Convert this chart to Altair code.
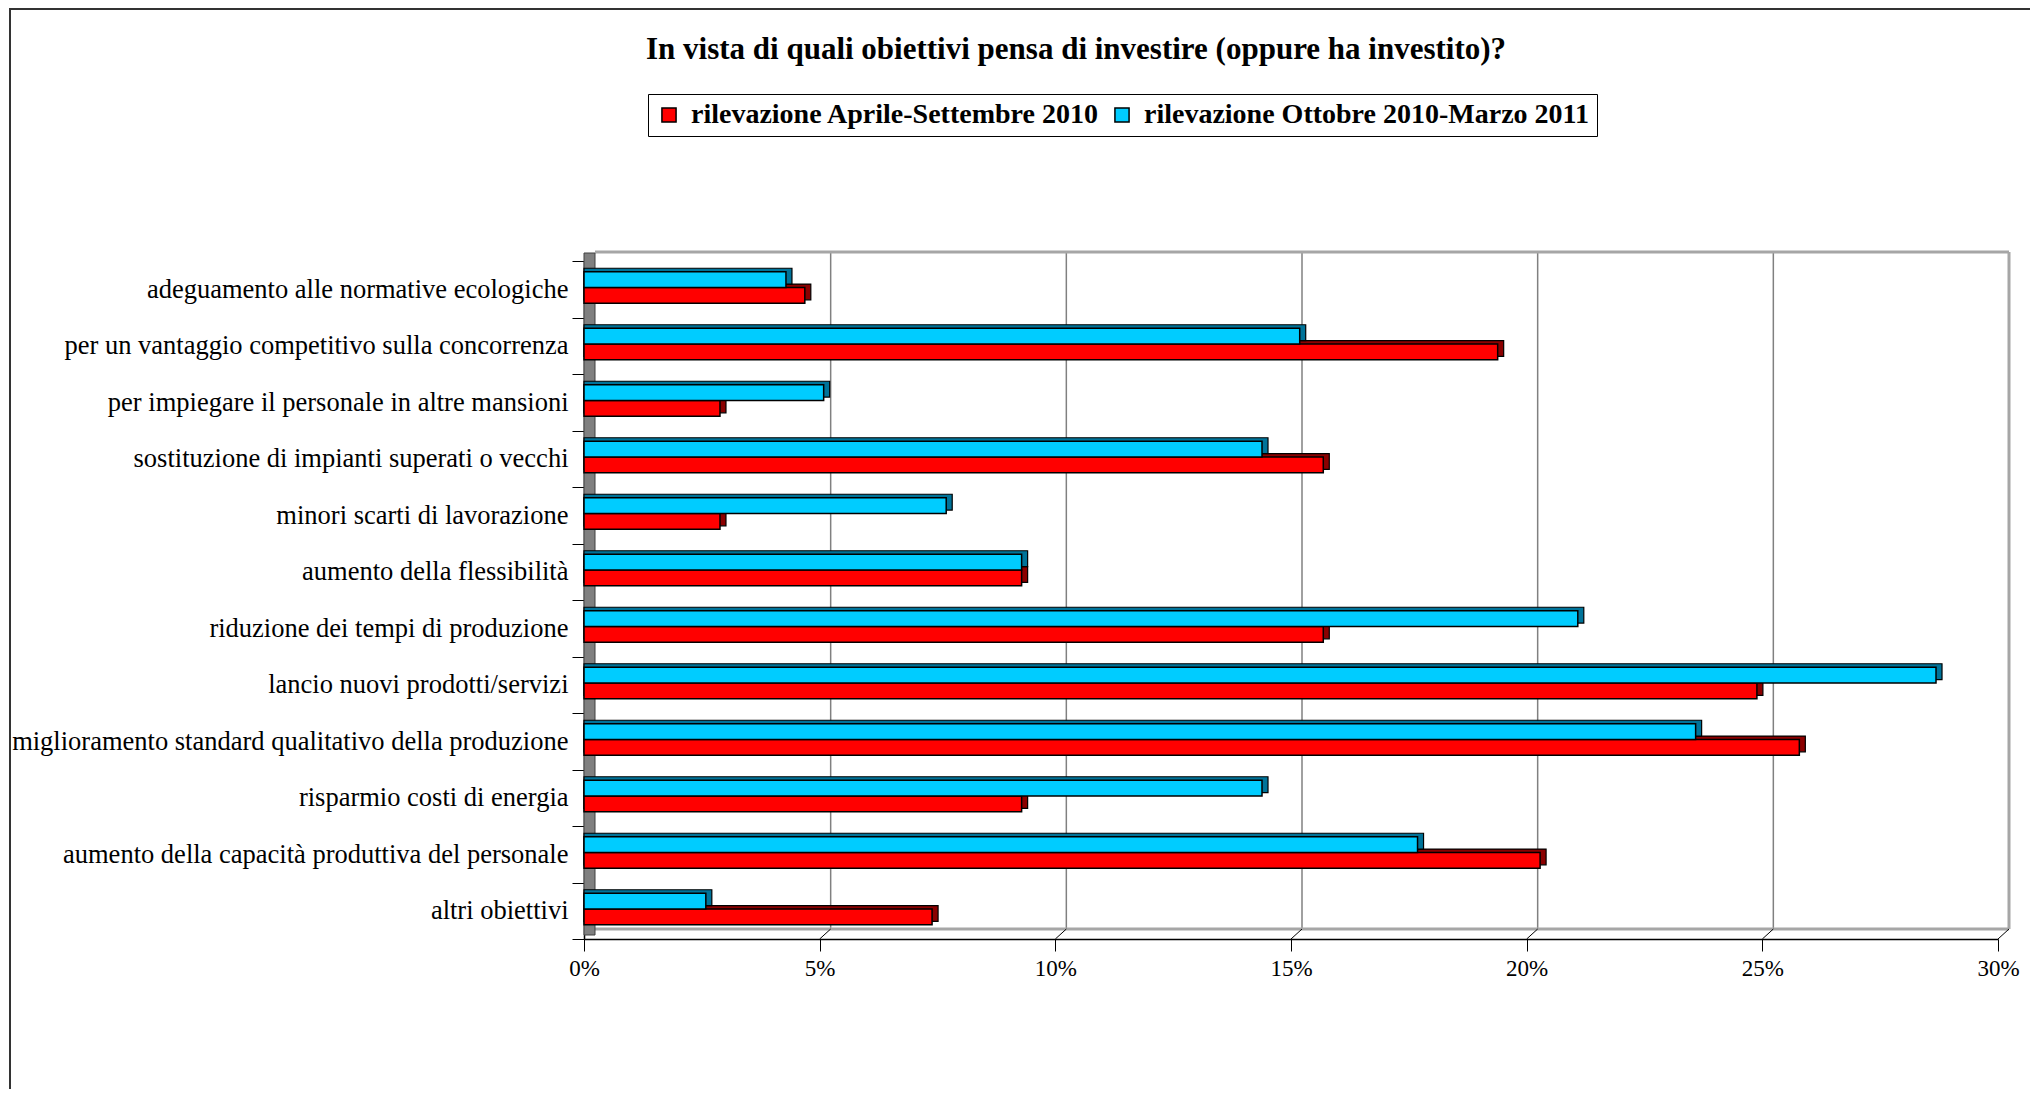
import altair as alt
import pandas as pd

categories = [
    "adeguamento alle normative ecologiche",
    "per un vantaggio competitivo sulla concorrenza",
    "per impiegare il personale in altre mansioni",
    "sostituzione di impianti superati o vecchi",
    "minori scarti di lavorazione",
    "aumento della flessibilità",
    "riduzione dei tempi di produzione",
    "lancio nuovi prodotti/servizi",
    "miglioramento standard qualitativo della produzione",
    "risparmio costi di energia",
    "aumento della capacità produttiva del personale",
    "altri obiettivi",
]
aprile_settembre_2010 = [4.6, 19.3, 2.8, 15.6, 2.8, 9.2, 15.6, 24.8, 25.7, 9.2, 20.2, 7.3]
ottobre_2010_marzo_2011 = [4.2, 15.1, 5.0, 14.3, 7.6, 9.2, 21.0, 28.6, 23.5, 14.3, 17.6, 2.5]
series_names = ["rilevazione Aprile-Settembre 2010", "rilevazione Ottobre 2010-Marzo 2011"]
tick_values = [0, 5, 10, 15, 20, 25, 30]
title_text = "In vista di quali obiettivi pensa di investire (oppure ha investito)?"

rows = []
for c, a, o in zip(categories, aprile_settembre_2010, ottobre_2010_marzo_2011):
    rows.append({"obiettivo": c, "serie": series_names[0], "valore": a})
    rows.append({"obiettivo": c, "serie": series_names[1], "valore": o})
df = pd.DataFrame(rows)
ticks_df = pd.DataFrame({"tick": tick_values[1:]})
one = pd.DataFrame({"t": [title_text]})

W, H = 1414, 678
FONT = "Liberation Serif"
DX, DY = 11, 10          # depth of the back wall
BAR_H = 15.8

xscale = alt.Scale(domain=[0, 30], nice=False, zero=True)
xaxis = alt.Axis(title=None, values=tick_values, labelExpr="datum.value + '%'",
                 labelFont=FONT, labelFontSize=23, labelColor="black", labelPadding=6,
                 labelFlush=False, labelOverlap=False,
                 tickSize=12, tickColor="black", tickWidth=1, domainColor="black",
                 domainWidth=1.5, grid=False)
yaxis = alt.Axis(title=None, labelFont=FONT, labelFontSize=26.5, labelColor="black",
                 labelPadding=4, tickSize=12, tickColor="black", tickWidth=1,
                 tickBand="extent", domainColor="black", domainWidth=1.5, labelLimit=800)
yscale = alt.Scale(paddingInner=0, paddingOuter=0)

legend = alt.Legend(title=None, orient="none", legendX=64, legendY=-167, direction="horizontal",
                    labelFont=FONT, labelFontSize=28, labelFontWeight="bold", labelColor="black",
                    symbolType="square", symbolSize=200, symbolStrokeColor="black",
                    symbolStrokeWidth=1.5, symbolOpacity=1, strokeColor="black",
                    fillColor="white", padding=7, columnPadding=8, labelOffset=8, labelLimit=700)
color = alt.Color("serie:N", scale=alt.Scale(domain=series_names, range=["#FF0000", "#00CCFF"]),
                  legend=legend)

X = alt.X("valore:Q", scale=xscale, axis=xaxis, stack=None)
Y = alt.Y("obiettivo:N", sort=categories, scale=yscale, axis=yaxis)

frame = alt.Chart(one).mark_rect(fillOpacity=0, stroke="#333333", strokeWidth=2).encode(
    x=alt.value(-574), x2=alt.value(W + 400), y=alt.value(-252), y2=alt.value(H + 500))

grid = alt.Chart(ticks_df).mark_rule(color="#808080", strokeWidth=1.5, xOffset=DX).encode(
    x=alt.X("tick:Q", scale=xscale, axis=xaxis), y=alt.value(-DY + 1), y2=alt.value(H - DY))
top_border = alt.Chart(one).mark_rule(color="#A6A6A6", strokeWidth=3, xOffset=DX, x2Offset=DX).encode(
    x=alt.datum(0, scale=xscale, axis=xaxis), x2=alt.datum(30), y=alt.value(-DY + 1))
floor_border = alt.Chart(one).mark_rule(color="#A6A6A6", strokeWidth=3, xOffset=DX, x2Offset=DX).encode(
    x=alt.datum(0, scale=xscale, axis=xaxis), x2=alt.datum(30), y=alt.value(H - DY))
right_border = alt.Chart(one).mark_rule(color="#A6A6A6", strokeWidth=3, xOffset=DX).encode(
    x=alt.datum(30, scale=xscale, axis=xaxis), y=alt.value(-DY + 1), y2=alt.value(H - DY))
diag = alt.Chart(ticks_df).mark_rule(color="black", strokeWidth=1, x2Offset=DX).encode(
    x=alt.X("tick:Q", scale=xscale, axis=xaxis), x2="tick:Q", y=alt.value(H), y2=alt.value(H - DY))
wall = alt.Chart(one).mark_rect(color="#808080", stroke="#404040", strokeWidth=1).encode(
    x=alt.value(0), x2=alt.value(DX), y=alt.value(-8), y2=alt.value(H - 4))


def bars(series, shade, yoff):
    base = alt.Chart(df).transform_filter(alt.datum.serie == series)
    sh = base.mark_bar(color=shade, stroke="black", strokeWidth=1.2, height=BAR_H,
                       xOffset=10, x2Offset=10, yOffset=yoff - 3.5).encode(x=X, y=Y)
    fr = base.mark_bar(stroke="black", strokeWidth=1.5, height=BAR_H, opacity=1,
                       xOffset=4, x2Offset=4, yOffset=yoff).encode(x=X, y=Y, color=color)
    return [sh, fr]


red = bars(series_names[0], "#8B0000", 6.2)
blue = bars(series_names[1], "#007399", -9.6)

title = alt.Chart(one).mark_text(font=FONT, fontSize=31, fontWeight="bold", align="left",
                                 baseline="alphabetic", color="black").encode(
    text="t:N", x=alt.value(62), y=alt.value(-202))

chart = alt.layer(frame, grid, top_border, floor_border, right_border, diag, wall,
                  *red, *blue, title).properties(
    width=W, height=H,
    background="white",
    autosize=alt.AutoSizeParams(type="none"),
    padding={"left": 576, "top": 253, "right": 32, "bottom": 150},
).configure_view(stroke=None)

chart.save("out.html", embed_options={"renderer": "svg", "actions": False})
